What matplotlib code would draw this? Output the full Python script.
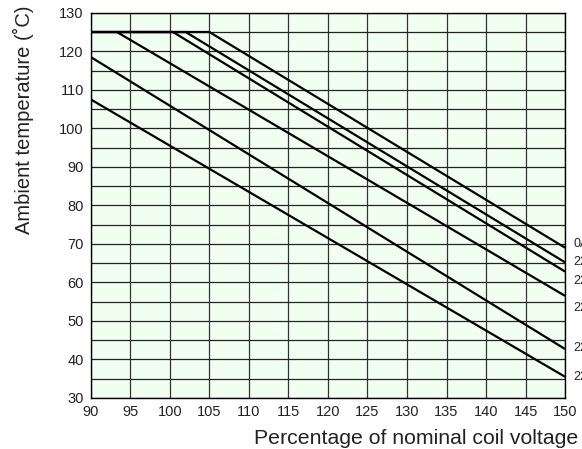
import numpy as np
import matplotlib.pyplot as plt

plt.rcParams['font.family'] = ['Liberation Sans', 'DejaVu Sans']

# derating curves: (x points, y points)
curve_x = [
    [90, 105, 150],
    [90, 102, 150],
    [90, 100.4, 150],
    [93.3, 150],
    [90, 150],
    [90, 150],
]
curve_y = [
    [125, 125, 69],
    [125, 125, 65.2],
    [125, 125, 62.8],
    [125, 56.5],
    [118.5, 42.7],
    [107.5, 35.5],
]
end_labels = ["0A", "22", "22", "22", "22", "22"]
label_y = [70, 65.2, 60.4, 53.4, 43, 35.5]

x_ticks = np.arange(90, 151, 5)
y_ticks = np.arange(30, 131, 10)

fig = plt.figure(figsize=(5.82, 4.49), dpi=100)
ax = fig.add_axes([0.156, 0.1136, 0.815, 0.858])
ax.set_facecolor('#f0fff0')

# grid every 5 in both directions
for xv in np.arange(90, 151, 5):
    ax.axvline(xv, color='#333333', lw=0.9, zorder=1)
for yv in np.arange(30, 131, 5):
    ax.axhline(yv, color='#222222', lw=0.9, zorder=1)

for xs, ys in zip(curve_x, curve_y):
    ax.plot(xs, ys, color='black', lw=1.6, zorder=3, solid_capstyle='butt')

for lab, yl in zip(end_labels, label_y):
    ax.text(151, yl, lab, fontsize=9, va='center', ha='left', color='#222222',
            clip_on=False)

ax.set_xlim(90, 150)
ax.set_ylim(30, 130)
ax.set_xticks(x_ticks)
ax.set_yticks(y_ticks)
ax.tick_params(length=0, labelsize=10.5, pad=5, labelcolor='#222222')
for s in ax.spines.values():
    s.set_color('black')
    s.set_linewidth(1.0)

ax.set_ylabel("Ambient temperature (˚C)", fontsize=14.5, color='#222222',
              va='center')
ax.yaxis.set_label_coords(-0.141, 0.722)
ax.set_xlabel("Percentage of nominal coil voltage", fontsize=15.3, color='#222222',
              ha='right', va='center')
ax.xaxis.set_label_coords(1.027, -0.104)

fig.savefig("out.png", dpi=100)
